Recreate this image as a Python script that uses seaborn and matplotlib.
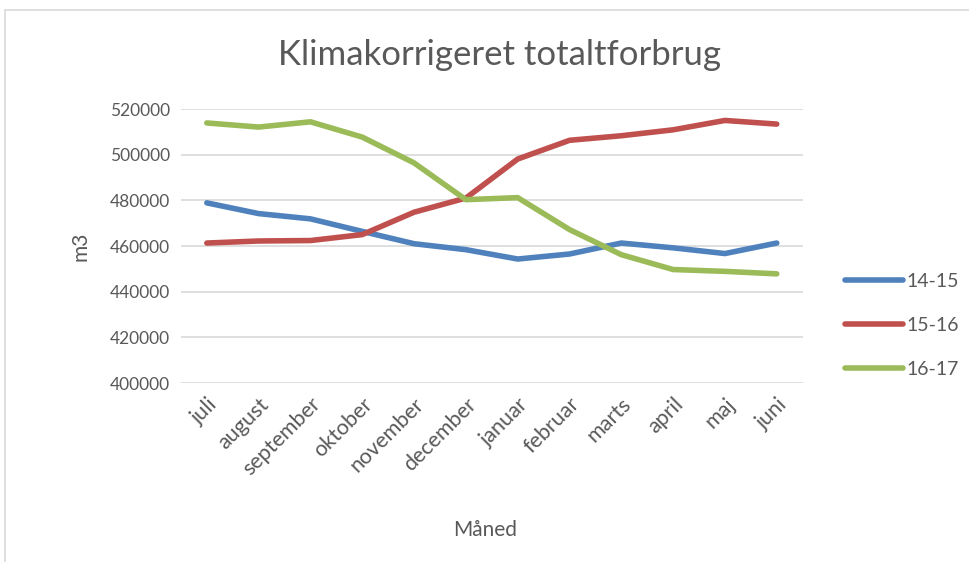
import numpy as np
import pandas as pd
import matplotlib.pyplot as plt
import seaborn as sns
from matplotlib.patches import Rectangle

months = ["juli", "august", "september", "oktober", "november", "december",
          "januar", "februar", "marts", "april", "maj", "juni"]
s_14_15 = [478900, 474200, 471900, 466400, 461000, 458400,
           454300, 456500, 461300, 459200, 456700, 461300]
s_15_16 = [461300, 462200, 462400, 465000, 474800, 481000,
           498100, 506300, 508300, 510900, 515000, 513400]
s_16_17 = [513900, 512100, 514400, 507700, 496400, 480300,
           481200, 467200, 456200, 449700, 448900, 447800]
series_names = ["14-15", "15-16", "16-17"]
colors = ["#4F81BD", "#C0504D", "#9BBB59"]
y_ticks = [400000, 420000, 440000, 460000, 480000, 500000, 520000]

df = pd.DataFrame({
    "month": months * 3,
    "idx": list(range(len(months))) * 3,
    "value": s_14_15 + s_15_16 + s_16_17,
    "series": [n for n in series_names for _ in months],
})

sns.set_style("white")
plt.rcParams["font.family"] = ["Lato", "DejaVu Sans"]
txt = "#595959"

fig = plt.figure(figsize=(9.7, 5.62), dpi=100)
ax = fig.add_axes([0.1865, 0.3185, 0.641, 0.4875])

sns.lineplot(data=df, x="idx", y="value", hue="series", palette=colors,
             linewidth=4, ax=ax, sort=False, solid_capstyle="round")

ax.set_xlim(-0.5, len(months) - 0.5)
ax.set_ylim(y_ticks[0], y_ticks[-1])
ax.set_yticks(y_ticks)
ax.set_yticklabels([str(v) for v in y_ticks], fontsize=12.5, color=txt)
ax.set_xticks(range(len(months)))
ax.set_xticklabels(months, rotation=45, ha="right", rotation_mode="anchor",
                   fontsize=15.5, color=txt)
ax.tick_params(axis="both", length=0, pad=8)
ax.yaxis.grid(True, color="#D9D9D9", linewidth=1.2)
ax.set_axisbelow(True)
for sp in ax.spines.values():
    sp.set_visible(False)

ax.set_xlabel("Måned", fontsize=15, color=txt)
ax.set_ylabel("m3", fontsize=15, color=txt, labelpad=14)
ax.xaxis.set_label_coords(0.49, -0.50)

fig.text(0.515, 0.902, "Klimakorrigeret totaltforbrug", ha="center", va="center",
         fontsize=25, color=txt)

handles, labels = ax.get_legend_handles_labels()
ax.legend(handles, labels, loc="center left", bbox_to_anchor=(1.04, 0.21),
          frameon=False, fontsize=14, handlelength=3.0, labelspacing=1.4,
          labelcolor=txt, handletextpad=0.15)

fig.add_artist(Rectangle((5 / 970, -0.1), 1.1, 1.1 - 10 / 562,
                         transform=fig.transFigure, fill=False,
                         edgecolor="#D9D9D9", linewidth=1.2))

fig.savefig("out.png", dpi=100)
